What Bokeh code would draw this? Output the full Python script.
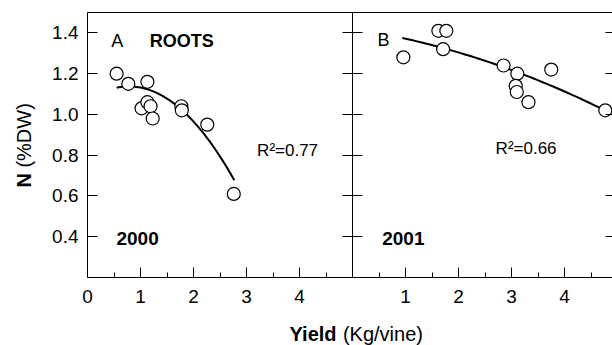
import numpy as np
from bokeh.plotting import figure
from bokeh.models import (Range1d, LinearAxis, FixedTicker, Label,
                          PrintfTickFormatter)
from bokeh.embed import file_html
from bokeh.resources import INLINE

# ---------------- data ----------------
# Panel A (2000): yield (Kg/vine) vs N (%DW)
yield_2000 = [0.55, 0.77, 1.13, 1.02, 1.13, 1.19, 1.23, 1.77, 1.78, 2.26, 2.76]
n_2000 = [1.20, 1.15, 1.16, 1.03, 1.06, 1.04, 0.98, 1.04, 1.02, 0.95, 0.61]
# quadratic fit: a + b*x + c*x^2
fit_2000 = [1.0655, 0.1833, -0.1168]
fit_2000_span = [0.55, 2.77]

# Panel B (2001)
yield_2001 = [0.96, 1.62, 1.77, 1.71, 2.85, 3.11, 3.08, 3.10, 3.32, 3.75, 4.77]
n_2001 = [1.28, 1.41, 1.41, 1.32, 1.24, 1.20, 1.14, 1.11, 1.06, 1.22, 1.02]
fit_2001 = [1.4202, -0.0393, -0.0094]
fit_2001_span = [0.94, 4.77]

y_ticks = [0.4, 0.6, 0.8, 1.0, 1.2, 1.4]
x_ticks_a = [0, 1, 2, 3, 4]
x_ticks_b = [1, 2, 3, 4]
x_minor = [0.5, 1.5, 2.5, 3.5, 4.5]
r2_labels = ["R\u00b2=0.77", "R\u00b2=0.66"]
year_labels = ["2000", "2001"]
panel_letters = ["A", "B"]

# ---------------- layout constants ----------------
PANEL = 5.0            # width of one panel in x units
Y0, Y1 = 0.2, 1.5      # panel y extent
FONT = "Liberation Sans"
PXX = 53.0             # px per x unit
PXY = 203.8            # px per y unit
LEFT, TOP, BOTTOM = 87, 12, 68
X_LO = -LEFT / PXX
X_HI = (612 - LEFT) / PXX
Y_LO = Y0 - BOTTOM / PXY
Y_HI = Y1 + TOP / PXY

p = figure(width=612, height=345, output_backend="svg", toolbar_location=None,
           x_range=Range1d(X_LO, X_HI), y_range=Range1d(Y_LO, Y_HI),
           min_border=0)
p.extra_x_ranges = {"b": Range1d(X_LO - PANEL, X_HI - PANEL)}
p.outline_line_color = None
p.grid.visible = False
p.background_fill_color = "white"
p.border_fill_color = "white"


def style(ax, size="19px"):
    ax.axis_line_color = "black"
    ax.major_tick_line_color = "black"
    ax.minor_tick_line_color = "black"
    ax.major_label_text_font = FONT
    ax.major_label_text_font_size = size
    ax.major_label_text_color = "black"


# bottom axis: panel A ticks + panel B ticks shifted by one panel width
major = list(x_ticks_a) + [t + PANEL for t in x_ticks_b]
minor = list(x_minor) + [m + PANEL for m in x_minor]
xa = p.xaxis[0]
xa.fixed_location = Y0
xa.bounds = (0, X_HI)
xa.ticker = FixedTicker(ticks=major, minor_ticks=minor)
xa.major_label_overrides = {t + PANEL: str(t) for t in x_ticks_b}
xa.major_tick_in = 10
xa.major_tick_out = 0
xa.minor_tick_in = 5
xa.minor_tick_out = 0
xa.major_label_standoff = 13
style(xa)

ya = p.yaxis[0]
ya.fixed_location = 0
ya.bounds = (Y0, Y1)
ya.ticker = FixedTicker(ticks=y_ticks, minor_ticks=[])
ya.formatter = PrintfTickFormatter(format="%.1f")
ya.major_tick_in = 10
ya.major_tick_out = 0
ya.major_label_standoff = 9
style(ya)

top = LinearAxis(fixed_location=Y1, bounds=(0, X_HI),
                 ticker=FixedTicker(ticks=[]), major_tick_out=0,
                 major_tick_in=0, axis_line_color="black")
p.add_layout(top, "above")

# divider between panels with ticks on both sides
div = LinearAxis(fixed_location=PANEL, bounds=(Y0, Y1),
                 ticker=FixedTicker(ticks=y_ticks, minor_ticks=[]),
                 major_tick_in=10, major_tick_out=10,
                 major_label_overrides={t: "" for t in y_ticks},
                 axis_line_color="black", major_tick_line_color="black")
p.add_layout(div, "right")

# right edge of panel B (cut by the picture): inward ticks only
edge = LinearAxis(fixed_location=X_HI, bounds=(Y0, Y1),
                  ticker=FixedTicker(ticks=y_ticks, minor_ticks=[]),
                  major_tick_in=7, major_tick_out=0,
                  major_label_overrides={t: "" for t in y_ticks},
                  axis_line_color=None, major_tick_line_color="black")
p.add_layout(edge, "right")


# fitted curves
def curve(coef, span):
    xs = np.linspace(span[0], span[1], 60)
    return xs, coef[0] + coef[1] * xs + coef[2] * xs ** 2


cx, cy = curve(fit_2000, fit_2000_span)
p.line(cx, cy, line_color="black", line_width=2)
cx, cy = curve(fit_2001, fit_2001_span)
p.line(cx, cy, line_color="black", line_width=2, x_range_name="b")

# points
p.scatter(yield_2000, n_2000, marker="circle", size=13, fill_color="white",
          line_color="black", line_width=1.2)
p.scatter(yield_2001, n_2001, marker="circle", size=13, fill_color="white",
          line_color="black", line_width=1.2, x_range_name="b")


def lab(text, x, y, size, bold=False, rng="default", angle=0, align="left"):
    p.add_layout(Label(x=x, y=y, text=text, x_range_name=rng,
                       text_font=FONT, text_font_size=size,
                       text_font_style="bold" if bold else "normal",
                       text_color="black", text_align=align,
                       text_baseline="middle", angle=angle))


lab(panel_letters[0], 0.45, 1.359, "18px")
lab("ROOTS", 1.175, 1.359, "18px", bold=True)
lab(r2_labels[0], 3.20, 0.823, "17px")
lab(year_labels[0], 0.547, 0.391, "19px", bold=True)

lab(panel_letters[1], 0.47, 1.366, "18px", rng="b")
lab(r2_labels[1], 2.70, 0.833, "17px", rng="b")
lab(year_labels[1], 0.56, 0.391, "19px", bold=True, rng="b")

# axis titles (mixed weight)
lab("N", -1.2075, 0.641, "20px", bold=True, angle=np.pi / 2)
lab("(%DW)", -1.2075, 0.739, "20px", angle=np.pi / 2)
lab("Yield", 3.811, -0.075, "20px", bold=True)
lab("(Kg/vine)", 4.819, -0.075, "20px")

open("out.html", "w").write(file_html(p, INLINE))
